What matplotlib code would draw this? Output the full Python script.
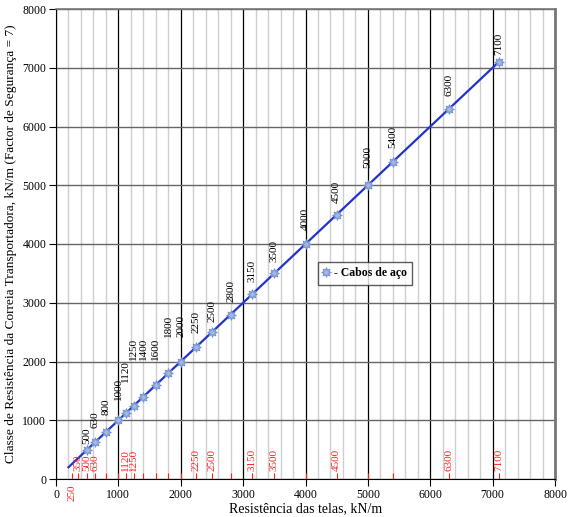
import numpy as np
import matplotlib.pyplot as plt
from matplotlib.ticker import MultipleLocator

plt.rcParams['font.family'] = ['Liberation Serif', 'DejaVu Serif']

# Dados: classes dos cabos de aço (resistência = classe, fator 7)
line_x = [200, 7100]
cabos = [500, 630, 800, 1000, 1120, 1250, 1400, 1600, 1800, 2000, 2250,
         2500, 2800, 3150, 3500, 4000, 4500, 5000, 5400, 6300, 7100]
# altura das etiquetas rodadas (layout)
label_y = [596, 868, 1089, 1345, 1651, 2026, 2026, 2026, 2417, 2417, 2485,
           2672, 3013, 3353, 3694, 4238, 4698, 5294, 5634, 6519, 7217]

red_ticks = [250, 350, 500, 630, 800, 1000, 1120, 1250, 1400, 1600, 1800,
             2000, 2250, 2500, 2800, 3150, 3500, 4000, 4500, 5000, 5400,
             6300, 7100]
red_labels = [350, 500, 630, 1120, 1250, 2250, 2500, 3150, 3500, 4500,
              6300, 7100]

fig = plt.figure(figsize=(5.7, 5.17), dpi=100)
ax = fig.add_axes([56 / 570, 1 - 479 / 517, 499 / 570, 470 / 517])

ax.set_xlim(0, 8000)
ax.set_ylim(0, 8000)

# grelha
ax.xaxis.set_major_locator(MultipleLocator(1000))
ax.yaxis.set_major_locator(MultipleLocator(1000))
ax.xaxis.set_minor_locator(MultipleLocator(200))
ax.grid(which='minor', axis='x', color='#cfcfcf', linewidth=1.0)
ax.grid(which='major', axis='x', color='#000000', linewidth=0.9)
ax.grid(which='major', axis='y', color='#666666', linewidth=1.0)
ax.set_axisbelow(True)
ax.tick_params(which='minor', length=0)
ax.tick_params(which='major', direction='out', length=5, labelsize=8.5, pad=2)

for s in ['top', 'right']:
    ax.spines[s].set_color('#777777')
ax.spines['right'].set_linewidth(2)
ax.spines['top'].set_linewidth(1.2)

# linha + marcadores
ax.plot(line_x, line_x, color='#2233cc', linewidth=1.6, zorder=3)
ax.plot(cabos, cabos, linestyle='none', marker=(8, 1, 0), markersize=7,
        markerfacecolor='#a4b6e2', markeredgecolor='#6f8fd0',
        markeredgewidth=0.7, zorder=4, label='- Cabos de aço')

for v, ly in zip(cabos, label_y):
    ax.text(v, ly, str(v), rotation=90, ha='center', va='bottom',
            fontsize=8, color='black', zorder=5)

# marcas vermelhas no eixo x
ax.vlines(red_ticks, 0, 110, color='#ff2020', linewidth=0.8, zorder=5)
for v in red_labels:
    ax.text(v, 130, str(v), rotation=90, ha='center', va='bottom',
            fontsize=8, color='#ff2020', zorder=5)
ax.text(red_ticks[0], -90, str(red_ticks[0]), rotation=90, ha='center',
        va='top', fontsize=8, color='#ff2020', clip_on=False)

ax.set_xlabel('Resistência das telas, kN/m', fontsize=10, labelpad=1)
ax.set_ylabel('Classe de Resistência da Correia Transportadora, kN/m (Factor de Segurança = 7)',
              fontsize=9.6, labelpad=4)

leg = ax.legend(loc='upper left', frameon=True, fancybox=False,
                handlelength=0.5, handletextpad=0.4, borderpad=0.45,
                borderaxespad=0, prop={'weight': 'bold', 'size': 8.5})
leg.set_bbox_to_anchor((318 / 570, 1 - 262 / 517), transform=fig.transFigure)
leg.get_frame().set_edgecolor('#333333')
leg.get_frame().set_linewidth(1.0)

fig.savefig('out.png', dpi=100)
